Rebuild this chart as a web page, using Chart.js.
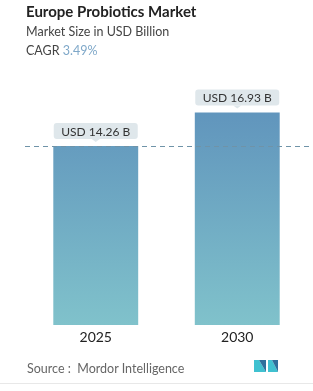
<!DOCTYPE html>
<html>
<head>
<meta charset="utf-8">
<script src="https://cdn.jsdelivr.net/npm/chart.js@4.4.1/dist/chart.umd.min.js"></script>
<style>
  html, body { margin: 0; padding: 0; background: #fff; }
  body { width: 313px; height: 391px; position: relative; overflow: hidden; font-family: Lato, "Open Sans", sans-serif; }
  #wrap { position: absolute; left: 0; top: 0; width: 313px; height: 391px; }
  .txt { position: absolute; left: 26px; white-space: nowrap; }
  #title { top: 2px; font-size: 15px; font-weight: bold; color: #222; }
  #sub { top: 24px; font-size: 12.5px; color: #444; }
  #cagr { top: 43px; font-size: 12.5px; color: #444; }
  #cagr span { color: #7fa8c9; }
  #source { top: 361px; left: 27px; font-size: 12.5px; color: #666; }
  #rule { position: absolute; left: 0; top: 383px; width: 313px; height: 1px; background: #e8e8e8; }
</style>
</head>
<body>
<div id="wrap"><canvas id="chart" width="313" height="391"></canvas></div>
<div class="txt" id="title">Europe Probiotics Market</div>
<div class="txt" id="sub">Market Size in USD Billion</div>
<div class="txt" id="cagr">CAGR <span>3.49%</span></div>
<div class="txt" id="source">Source :&nbsp; Mordor Intelligence</div>
<div id="rule"></div>
<script>
// data
let years = ['2025', '2030']
let marketSize = [14.26, 16.93]
let valueLabels = ['USD 14.26 B', 'USD 16.93 B']

let ctx = document.querySelector('#chart').getContext('2d')

// gradient for each bar, from its own top down to the base
function barGradient(context) {
    let chart = context.chart
    let area = chart.chartArea
    if (!area) return '#6a9fc0'
    let bar = context.element
    let top = bar && bar.y ? bar.y : area.top
    let g = chart.ctx.createLinearGradient(0, top, 0, area.bottom)
    g.addColorStop(0, '#5b8dba')
    g.addColorStop(1, '#80c2cb')
    return g
}

// dashed line at the first bar's top, plus the value boxes
let extras = {
    id: 'extras',
    afterDatasetsDraw(chart) {
        let c = chart.ctx
        let meta = chart.getDatasetMeta(0)
        let first = meta.data[0]
        c.save()
        c.strokeStyle = '#6f93a8'
        c.lineWidth = 1
        c.setLineDash([5, 4])
        c.beginPath()
        c.moveTo(chart.chartArea.left, Math.round(first.y) + 0.5)
        c.lineTo(313, Math.round(first.y) + 0.5)
        c.stroke()
        c.setLineDash([])

        meta.data.forEach(function(bar, i) {
            let w = 84, h = 16
            let x = bar.x - w / 2
            let y = bar.y - 7 - h
            c.fillStyle = '#dfe7eb'
            c.beginPath()
            c.roundRect(x, y, w, h, 3)
            c.fill()
            c.beginPath()
            c.moveTo(bar.x - 4, y + h)
            c.lineTo(bar.x, y + h + 3)
            c.lineTo(bar.x + 4, y + h)
            c.fill()
            c.fillStyle = '#333'
            c.font = '12px Lato, "Open Sans", sans-serif'
            c.textAlign = 'center'
            c.textBaseline = 'middle'
            c.fillText(valueLabels[i], bar.x, y + h / 2 + 1)
        })

        // small logo bottom right
        c.fillStyle = '#3fc1d0'
        c.beginPath()
        c.moveTo(254, 360); c.lineTo(259, 360); c.lineTo(266, 372); c.lineTo(254, 372); c.closePath()
        c.fill()
        c.fillStyle = '#2e6f9c'
        c.beginPath()
        c.moveTo(259, 360); c.lineTo(266, 360); c.lineTo(266, 372); c.closePath()
        c.fill()
        c.fillStyle = '#3fc1d0'
        c.beginPath()
        c.moveTo(268, 360); c.lineTo(272, 360); c.lineTo(278, 372); c.lineTo(268, 372); c.closePath()
        c.fill()
        c.fillStyle = '#2e6f9c'
        c.beginPath()
        c.moveTo(272, 360); c.lineTo(278, 360); c.lineTo(278, 372); c.closePath()
        c.fill()
        c.restore()
    }
}

let marketChart = new Chart(ctx, {
    type: 'bar',
    data: {
        labels: years,
        datasets: [{
            data: marketSize,
            backgroundColor: barGradient,
            borderWidth: 0,
            categoryPercentage: 1,
            barPercentage: 0.6
        }]
    },
    options: {
        responsive: false,
        animation: false,
        events: [],
        layout: { padding: { left: 25, right: 5, top: 74, bottom: 36 } },
        plugins: { legend: { display: false }, tooltip: { enabled: false } },
        scales: {
            x: {
                grid: { display: false, drawTicks: false },
                border: { display: false },
                ticks: { color: '#222', font: { size: 14, family: 'Lato, "Open Sans", sans-serif' }, padding: 4 },
                afterFit: function(s) { s.height = 30 }
            },
            y: {
                display: false,
                min: 0,
                max: 20
            }
        }
    },
    plugins: [extras]
})
</script>
</body>
</html>
